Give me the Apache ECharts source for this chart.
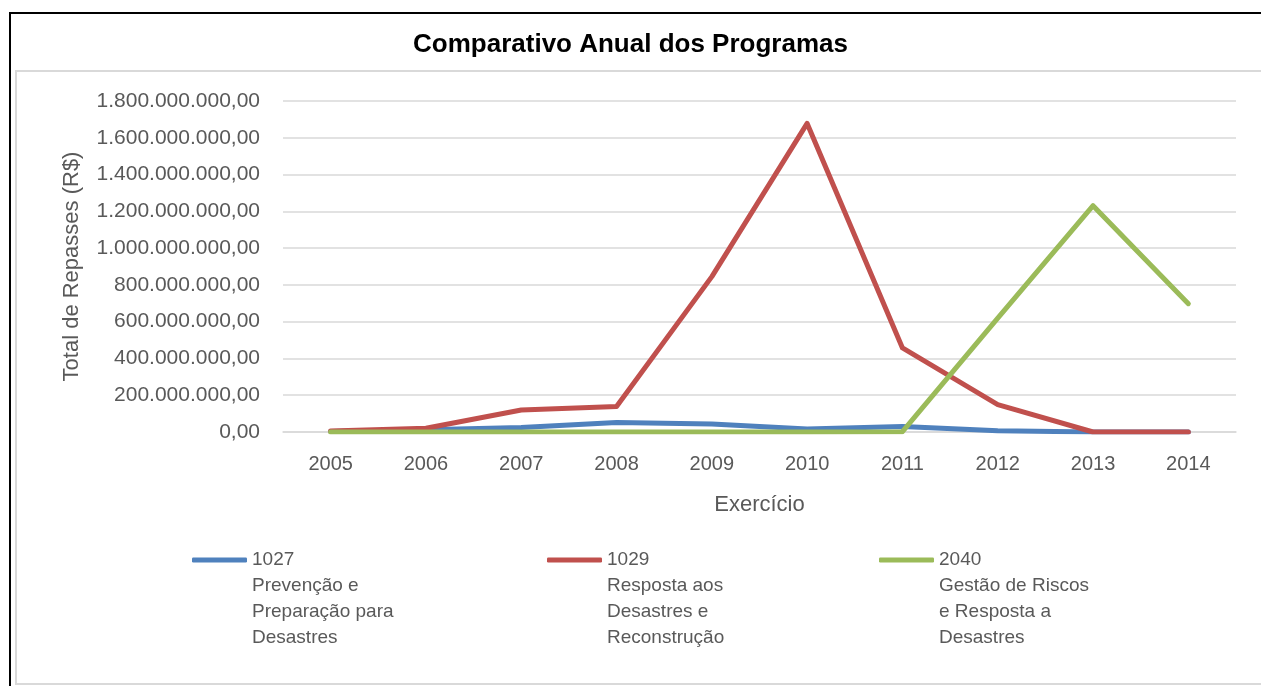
<!DOCTYPE html>
<html>
<head>
<meta charset="utf-8">
<title>Comparativo Anual dos Programas</title>
<script src="https://cdn.jsdelivr.net/npm/echarts@6/dist/echarts.min.js"></script>
<style>
    html, body { margin: 0; padding: 0; background: #fff; }
    #draw-main { width: 1261px; height: 686px; }
</style>
</head>
<body>
<div id="draw-main"></div>
<script>
// dados
let anos = ['2005', '2006', '2007', '2008', '2009', '2010', '2011', '2012', '2013', '2014'];
let prog1027 = [3000000, 12000000, 25000000, 52000000, 43000000, 16000000, 30000000, 7000000, 500000, 200000];
let prog1029 = [5000000, 20000000, 120000000, 139000000, 845000000, 1678000000, 457000000, 149000000, 0, 0];
let prog2040 = [0, 0, 0, 0, 0, 0, 2000000, 619000000, 1231000000, 698000000];
let nomes = ['1027', '1029', '2040'];
let descricoes = [
    'Prevenção e\nPreparação para\nDesastres',
    'Resposta aos\nDesastres e\nReconstrução',
    'Gestão de Riscos\ne Resposta a\nDesastres'
];
let cores = ['#4F81BD', '#C0504D', '#9BBB59'];

let fonte = 'Liberation Sans, Arial, sans-serif';

// 1.800.000.000,00
function formatarValor(v) {
    let s = Math.round(v).toString().replace(/\B(?=(\d{3})+(?!\d))/g, '.');
    return s + ',00';
}

let chartObj = {
    init: function () {
        this.draw();
    },
    legendas: function () {
        let lefts = [192, 547, 879];
        return nomes.map(function (n, i) {
            return {
                data: [n],
                left: lefts[i],
                top: 469,
                padding: 0,
                icon: 'roundRect',
                itemWidth: 55,
                itemHeight: 5,
                // linhas vazias antes: o texto fica centrado no ícone, assim a 1a linha cai na altura do ícone
                formatter: function (name) {
                    return '\n\n\n' + name + '\n' + descricoes[i];
                },
                textStyle: {
                    color: '#595959',
                    fontFamily: fonte,
                    fontSize: 19,
                    lineHeight: 26
                }
            };
        });
    },
    series: function () {
        let valores = [prog1027, prog1029, prog2040];
        return nomes.map(function (n, i) {
            return {
                name: n,
                type: 'line',
                data: valores[i],
                showSymbol: false,
                symbol: 'none',
                color: cores[i],
                lineStyle: { width: 5, cap: 'round', join: 'round' },
                z: 2 + i
            };
        });
    },
    draw: function () {
        let myChart = echarts.init(document.getElementById('draw-main'));

        let option = {
            animation: false,
            backgroundColor: '#fff',
            title: {
                text: 'Comparativo Anual dos Programas',
                left: 'center',
                top: 27,
                textStyle: { fontFamily: fonte, fontSize: 26, fontWeight: 'bold', color: '#000' }
            },
            // molduras do gráfico
            graphic: [
                {
                    type: 'rect', silent: true, z: -10,
                    shape: { x: 10, y: 13, width: 1300, height: 700 },
                    style: { fill: null, stroke: '#000', lineWidth: 2 }
                },
                {
                    type: 'rect', silent: true, z: -10,
                    shape: { x: 16, y: 71, width: 1300, height: 613 },
                    style: { fill: null, stroke: '#D9D9D9', lineWidth: 2 }
                }
            ],
            legend: this.legendas(),
            grid: { left: 283, right: 25, top: 101, height: 331 },
            xAxis: {
                type: 'category',
                data: anos,
                boundaryGap: true,
                name: 'Exercício',
                nameLocation: 'middle',
                nameGap: 62,
                nameTextStyle: { fontFamily: fonte, fontSize: 22, color: '#595959' },
                axisLine: { lineStyle: { color: '#D9D9D9', width: 1.5 } },
                axisTick: { show: false },
                axisLabel: { margin: 22, fontFamily: fonte, fontSize: 20, color: '#595959' }
            },
            yAxis: {
                type: 'value',
                min: 0,
                max: 1800000000,
                interval: 200000000,
                name: 'Total de Repasses (R$)',
                nameLocation: 'middle',
                nameGap: 200,
                nameTextStyle: { fontFamily: fonte, fontSize: 22, color: '#595959' },
                axisLine: { show: false },
                axisTick: { show: false },
                splitLine: { lineStyle: { color: '#D9D9D9', width: 1.5 } },
                axisLabel: {
                    margin: 23,
                    fontFamily: fonte,
                    fontSize: 21,
                    color: '#595959',
                    formatter: formatarValor
                }
            },
            series: this.series()
        };

        myChart.setOption(option, true);
    }
};

chartObj.init();
</script>
</body>
</html>
